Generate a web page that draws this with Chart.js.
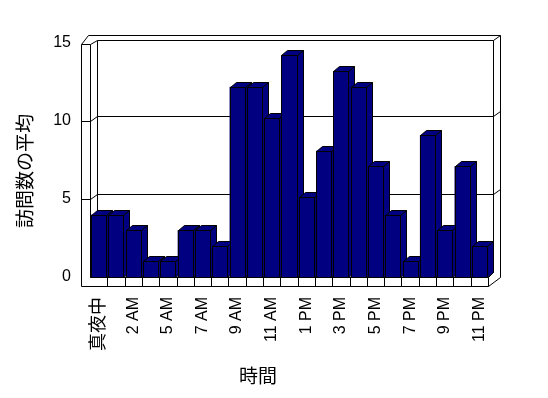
<!DOCTYPE html>
<html>
<head>
<meta charset="utf-8">
<script src="https://cdn.jsdelivr.net/npm/chart.js@4.4.0/dist/chart.umd.min.js"></script>
<style>
  body { margin: 0; background: #fff; }
  canvas { display: block; }
</style>
</head>
<body>
<canvas id="chart" width="548" height="398"></canvas>
<script>
// hours (one hour is missing in the source data)
const hours = ['真夜中', '1 AM', '2 AM', '3 AM', '5 AM', '6 AM', '7 AM', '8 AM', '9 AM', '10 AM', '11 AM', '正午',
    '1 PM', '2 PM', '3 PM', '4 PM', '5 PM', '6 PM', '7 PM', '8 PM', '9 PM', '10 PM', '11 PM'];
const avgVisits = [4, 4, 3, 1, 1, 3, 3, 2, 12.2, 12.2, 10.2, 14.2, 5.1, 8.1, 13.2, 12.2, 7.1, 4, 1, 9.1, 3, 7.1, 2];
const yTicks = [0, 5, 10, 15];
const xTitle = '時間';
const yTitle = '訪問数の平均';

const barColor = '#000080';
const FONT = '"Liberation Sans", "Noto Sans CJK JP", sans-serif';

Chart.defaults.font.family = FONT;
Chart.defaults.color = '#000';

function px(v) { return Math.round(v) + 0.5; }

function seg(ctx, x1, y1, x2, y2) {
    ctx.beginPath();
    ctx.moveTo(px(x1), px(y1));
    ctx.lineTo(px(x2), px(y2));
    ctx.stroke();
}

function poly(ctx, pts) {
    ctx.beginPath();
    pts.forEach((p, i) => i ? ctx.lineTo(p[0] + 0.5, p[1] + 0.5) : ctx.moveTo(p[0] + 0.5, p[1] + 0.5));
    ctx.closePath();
    ctx.fill();
    ctx.stroke();
}

function barBox(el) {
    return {
        l: Math.round(el.x - el.width / 2), r: Math.round(el.x + el.width / 2),
        t: Math.round(el.y), b: Math.round(el.base)
    };
}

// draws the excel-like 3d walls, floor and the depth faces of the bars
const frame3d = {
    id: 'frame3d',
    beforeDatasetsDraw(chart) {
        const { ctx, chartArea: a, scales: { x, y } } = chart;
        const L = a.left, R = a.right, B = a.bottom;
        const T = y.getPixelForValue(15);
        const dx = 7, dy = -5;
        const fx0 = L - 9, fB = B + 9, Tf = T + 1;
        const bxL = L + dx, bxR = R + 5, byT = T - 3, byB = B + dy;
        const oxR = R + 12, oyT = T - 8;

        ctx.save();
        ctx.strokeStyle = '#000';
        ctx.lineWidth = 1;

        // left wall
        seg(ctx, fx0, fB, fx0, Tf);
        seg(ctx, L, B, L, Tf);
        seg(ctx, fx0, Tf, L, Tf);
        seg(ctx, fx0, Tf, fx0 + 7, oyT);
        seg(ctx, fx0 + 7, oyT, oxR, oyT);
        seg(ctx, L, Tf, bxL, byT);

        // back wall
        seg(ctx, bxL, byT, bxR, byT);
        seg(ctx, bxL, byT, bxL, byB);
        seg(ctx, bxR, byT, bxR, byB);
        seg(ctx, bxL, byB, bxR, byB);
        seg(ctx, bxR, byT, oxR, oyT);
        seg(ctx, oxR, oyT, oxR, B);
        seg(ctx, oxR, B, R, fB);

        // floor
        seg(ctx, L, B, R, B);
        seg(ctx, fx0, fB, R, fB);
        seg(ctx, R, B, R, fB);
        seg(ctx, L, B, bxL, byB);
        seg(ctx, R, B, bxR, byB);
        const cw = (R - L) / hours.length;
        for (let k = 1; k < hours.length; k++) {
            seg(ctx, L + k * cw, B, L + k * cw, fB);
        }

        // gridlines on the walls
        yTicks.filter(v => v > 0 && v < 15).forEach(v => {
            const yf = y.getPixelForValue(v);
            seg(ctx, fx0, yf, L, yf);
            seg(ctx, L, yf, bxL, yf + dy);
            seg(ctx, bxL, yf + dy, bxR, yf + dy);
            seg(ctx, bxR, yf + dy, oxR, yf + dy - 5);
        });

        // bar sides and tops
        ctx.fillStyle = barColor;
        const bdx = 6, bdy = -5;
        chart.getDatasetMeta(0).data.forEach(el => {
            const { l, r, t, b } = barBox(el);
            poly(ctx, [[r, t], [r + bdx, t + bdy], [r + bdx, b + bdy], [r, b]]);
            poly(ctx, [[l, t], [l + bdx, t + bdy], [r + bdx, t + bdy], [r, t]]);
        });
        ctx.restore();
    },
    afterDatasetsDraw(chart) {
        const { ctx } = chart;
        ctx.save();
        ctx.fillStyle = barColor;
        ctx.strokeStyle = '#000';
        ctx.lineWidth = 1;
        chart.getDatasetMeta(0).data.forEach(el => {
            const { l, r, t, b } = barBox(el);
            ctx.fillRect(l, t, r - l, b - t);
            ctx.strokeRect(l + 0.5, t + 0.5, r - l, b - t);
        });
        ctx.restore();
    },
    afterDraw(chart) {
        const { ctx } = chart;
        ctx.save();
        ctx.fillStyle = '#000';
        ctx.font = '19px ' + FONT;
        ctx.textAlign = 'center';
        ctx.textBaseline = 'middle';
        ctx.fillText(xTitle, 258, 378);
        ctx.translate(27, 171);
        ctx.rotate(-Math.PI / 2);
        ctx.fillText(yTitle, 0, 0);
        ctx.restore();
    }
};

const ctx = document.getElementById('chart').getContext('2d');
const chart = new Chart(ctx, {
    type: 'bar',
    data: {
        labels: hours,
        datasets: [{
            data: avgVisits,
            backgroundColor: barColor,
            borderWidth: 0,
            barPercentage: 0.87,
            categoryPercentage: 1
        }]
    },
    options: {
        responsive: false,
        animation: false,
        layout: { padding: { left: 0, top: 43, right: 60, bottom: 0 } },
        plugins: { legend: { display: false }, tooltip: { enabled: false } },
        scales: {
            x: {
                grid: { display: false, drawTicks: false },
                border: { display: false },
                ticks: {
                    autoSkip: false,
                    minRotation: 90,
                    maxRotation: 90,
                    padding: 20,
                    font: c => ({ size: c.index === 0 ? 18 : 16 }),
                    callback: (v, i) => i % 2 === 0 ? hours[i] : ''
                },
                afterFit: s => { s.height = 121; s.paddingLeft = 0; s.paddingRight = 0; }
            },
            y: {
                min: 0,
                max: 15,
                grid: { display: false, drawTicks: false },
                border: { display: false },
                ticks: { stepSize: 5, padding: 19, font: { size: 16 } },
                afterFit: s => { s.width = 90; s.paddingTop = 0; s.paddingBottom = 0; }
            }
        }
    },
    plugins: [frame3d]
});
</script>
</body>
</html>
